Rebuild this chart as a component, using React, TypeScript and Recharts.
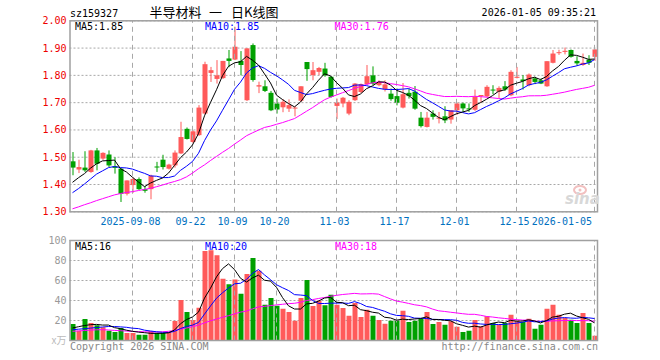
import React from 'react';
import { ComposedChart, Bar, Line, XAxis, YAxis, CartesianGrid, ReferenceLine, Cell } from 'recharts';

const dates = [
  '2025-08-25','2025-08-26','2025-08-27','2025-08-28','2025-08-29',
  '2025-09-01','2025-09-02','2025-09-03','2025-09-04','2025-09-05',
  '2025-09-08','2025-09-09','2025-09-10','2025-09-11','2025-09-12',
  '2025-09-15','2025-09-16','2025-09-17','2025-09-18','2025-09-19',
  '2025-09-22','2025-09-23','2025-09-24','2025-09-25','2025-09-26',
  '2025-09-29','2025-09-30','2025-10-09','2025-10-10',
  '2025-10-13','2025-10-14','2025-10-15','2025-10-16','2025-10-17',
  '2025-10-20','2025-10-21','2025-10-22','2025-10-23','2025-10-24',
  '2025-10-27','2025-10-28','2025-10-29','2025-10-30','2025-10-31',
  '2025-11-03','2025-11-04','2025-11-05','2025-11-06','2025-11-07',
  '2025-11-10','2025-11-11','2025-11-12','2025-11-13','2025-11-14',
  '2025-11-17','2025-11-18','2025-11-19','2025-11-20','2025-11-21',
  '2025-11-24','2025-11-25','2025-11-26','2025-11-27','2025-11-28',
  '2025-12-01','2025-12-02','2025-12-03','2025-12-04','2025-12-05',
  '2025-12-08','2025-12-09','2025-12-10','2025-12-11','2025-12-12',
  '2025-12-15','2025-12-16','2025-12-17','2025-12-18','2025-12-19',
  '2025-12-22','2025-12-23','2025-12-24','2025-12-25','2025-12-26',
  '2025-12-29','2025-12-30','2025-12-31','2026-01-05',
];

const opens = [
  1.485,1.455,1.462,1.446,1.525,1.495,1.510,1.467,1.458,1.366,
  1.398,1.420,1.383,1.383,1.466,1.491,1.458,1.470,1.514,1.604,
  1.556,1.581,1.660,1.809,1.787,1.790,1.862,1.858,1.853,1.709,
  1.911,1.759,1.760,1.736,1.697,1.683,1.678,1.679,1.707,1.849,
  1.801,1.813,1.825,1.795,1.688,1.697,1.660,1.709,1.739,1.768,
  1.800,1.764,1.749,1.733,1.724,1.682,1.736,1.740,1.645,1.611,
  1.660,1.643,1.650,1.638,1.672,1.697,1.679,1.674,1.725,1.723,
  1.748,1.740,1.760,1.727,1.791,1.785,1.764,1.789,1.782,1.760,
  1.846,1.882,1.886,1.893,1.853,1.838,1.858,1.868,
];
const highs = [
  1.519,1.491,1.522,1.527,1.534,1.518,1.525,1.500,1.460,1.415,
  1.426,1.426,1.395,1.436,1.483,1.509,1.476,1.525,1.630,1.609,
  1.599,1.691,1.850,1.831,1.856,1.853,1.893,1.978,1.889,1.899,
  1.917,1.777,1.782,1.743,1.715,1.713,1.712,1.687,1.760,1.849,
  1.849,1.831,1.846,1.797,1.715,1.721,1.709,1.772,1.770,1.838,
  1.833,1.782,1.782,1.752,1.752,1.772,1.752,1.761,1.666,1.666,
  1.672,1.666,1.687,1.672,1.700,1.700,1.697,1.748,1.728,1.764,
  1.764,1.760,1.779,1.819,1.831,1.801,1.807,1.795,1.789,1.852,
  1.893,1.894,1.902,1.895,1.870,1.880,1.874,1.895,
];
const lows = [
  1.434,1.442,1.446,1.443,1.452,1.490,1.464,1.440,1.336,1.360,
  1.369,1.380,1.370,1.346,1.446,1.455,1.455,1.462,1.512,1.565,
  1.552,1.578,1.657,1.776,1.770,1.787,1.830,1.856,1.800,1.706,
  1.777,1.735,1.739,1.669,1.660,1.665,1.666,1.650,1.703,1.780,
  1.782,1.801,1.795,1.718,1.640,1.683,1.654,1.706,1.735,1.764,
  1.764,1.760,1.741,1.707,1.690,1.679,1.715,1.674,1.609,1.609,
  1.638,1.624,1.625,1.623,1.655,1.666,1.666,1.670,1.700,1.720,
  1.731,1.715,1.743,1.724,1.789,1.748,1.760,1.768,1.768,1.758,
  1.844,1.875,1.877,1.865,1.835,1.835,1.838,1.853,
];
const closes = [
  1.462,1.464,1.452,1.525,1.476,1.516,1.470,1.461,1.366,1.415,
  1.420,1.383,1.377,1.432,1.464,1.464,1.473,1.517,1.574,1.567,
  1.595,1.682,1.841,1.819,1.800,1.853,1.853,1.905,1.838,1.899,
  1.783,1.764,1.743,1.672,1.675,1.703,1.691,1.682,1.760,1.823,
  1.819,1.827,1.800,1.721,1.700,1.718,1.703,1.770,1.768,1.797,
  1.770,1.776,1.767,1.713,1.700,1.731,1.724,1.678,1.614,1.645,
  1.648,1.645,1.635,1.672,1.697,1.679,1.675,1.722,1.728,1.758,
  1.746,1.754,1.748,1.813,1.795,1.779,1.803,1.776,1.770,1.852,
  1.880,1.885,1.890,1.868,1.844,1.846,1.846,1.895,
];
const volumes = [
  16.5,9.8,21.5,17.5,15.2,13.2,9.8,8.5,12.5,7.5,
  7.5,5.8,5.8,9.2,7.5,7.5,8.5,19.6,40.6,28.5,
  20.6,32.7,89.5,90.2,85.2,61.8,56.3,61.1,46.7,66.5,
  82.5,69.8,35.8,42.5,34.8,31.8,28.5,19.8,42.5,60.5,
  34.5,39.8,35.2,45.8,35.8,32.5,24.8,37.5,23.5,30.8,
  24.8,20.5,16.8,19.8,19.8,29.8,18.5,19.8,21.8,28.5,
  16.5,18.5,15.8,19.2,13.8,8.5,9.8,20.5,14.2,24.2,
  17.5,15.8,17.5,25.8,19.8,18.5,21.8,11.8,15.8,31.8,
  35.8,25.8,22.5,20.8,17.5,27.5,17.5,4.8,
];

// moving-average values for days whose window starts before the first shown day
const priceMa5Head = [1.408, 1.425, 1.440, 1.460];
const priceMa10Head = [1.370, 1.385, 1.402, 1.420, 1.438, 1.450, 1.462, 1.466, 1.462];
const priceMa30Head = [
  1.311,1.318,1.326,1.333,1.341,1.348,1.355,1.362,1.367,1.371,
  1.374,1.378,1.382,1.386,1.392,1.398,1.405,1.411,1.418,1.428,
  1.442,1.458,1.472,1.488,1.503,1.518,1.532,1.548,1.563,
];
const volMa5Head = [12.5, 13.8, 15.0, 15.8];
const volMa10Head = [10.8, 11.3, 11.8, 12.4, 13.0, 13.5, 14.0, 14.0, 13.6];
const volMa30Head = [
  9.2,9.6,10.0,10.4,10.7,10.8,10.5,10.1,9.8,9.4,
  9.1,8.9,8.7,8.6,8.5,8.7,9.2,10.0,11.2,12.5,
  13.8,15.4,17.6,19.7,21.5,23.2,24.8,26.6,28.4,
];

const markDates = ['2025-09-08','2025-09-22','2025-10-09','2025-10-20','2025-11-03','2025-11-17','2025-12-01','2025-12-15','2026-01-05'];
const markLabels = ['2025-09-08','09-22','10-09','10-20','11-03','11-17','12-01','12-15','2026-01-05'];
const priceTicks = [1.3, 1.4, 1.5, 1.6, 1.7, 1.8, 1.9, 2.0];
const volTicks = [0, 20, 40, 60, 80, 100];

const MONO = "'DejaVu Sans Mono', monospace";
const RED = '#ff5a5a';
const GREEN = '#00a000';
const GRID = '#a8a8a8';

function movingAvg(values: number[], n: number, head: number[]) {
  return values.map((_, i) => {
    if (i < n - 1) return head[i];
    let s = 0;
    for (let k = i - n + 1; k <= i; k++) s += values[k];
    return s / n;
  });
}

const pMa5 = movingAvg(closes, 5, priceMa5Head);
const pMa10 = movingAvg(closes, 10, priceMa10Head);
const pMa30 = movingAvg(closes, 30, priceMa30Head);
const vMa5 = movingAvg(volumes, 5, volMa5Head);
const vMa10 = movingAvg(volumes, 10, volMa10Head);
const vMa30 = movingAvg(volumes, 30, volMa30Head);

const rows = dates.map((d, i) => ({
  date: d,
  open: opens[i],
  high: highs[i],
  low: lows[i],
  close: closes[i],
  range: [lows[i], highs[i]],
  up: closes[i] >= opens[i],
  volume: volumes[i],
  ma5: pMa5[i],
  ma10: pMa10[i],
  ma30: pMa30[i],
  vma5: vMa5[i],
  vma10: vMa10[i],
  vma30: vMa30[i],
}));

function Candle(props: any) {
  const { x, width, payload } = props;
  let { y, height } = props;
  if (y == null || height == null) return null;
  if (height < 0) { y += height; height = -height; }
  const { open, close, high, low, up } = payload;
  const span = high - low;
  const ratio = span > 0 ? height / span : 0;
  const top = y + (high - Math.max(open, close)) * ratio;
  const bot = y + (high - Math.min(open, close)) * ratio;
  const color = up ? RED : GREEN;
  const cx = x + width / 2;
  return (
    <g>
      <rect x={cx - 0.5} y={y} width={1} height={Math.max(height, 1)} fill={color} />
      <rect x={x} y={top} width={width} height={Math.max(bot - top, 1)} fill={color} />
    </g>
  );
}

function DateTick(props: any) {
  const { x, y, payload } = props;
  const idx = markDates.indexOf(payload.value);
  const label = idx >= 0 ? markLabels[idx] : payload.value;
  const isLast = idx === markDates.length - 1;
  return (
    <text x={isLast ? 592 : x - 2} y={y} dy={7} textAnchor={isLast ? 'end' : 'middle'} fill="#0070c0" fontSize={10} fontFamily={MONO}>
      {label}
    </text>
  );
}

function VolTick(props: any) {
  const { x, y, payload } = props;
  const v = payload.value;
  return (
    <text x={x} y={y} dy={3.5} textAnchor="end" fill={v === 0 ? '#bbbbbb' : '#999999'} fontSize={10} fontFamily={v === 0 ? "'Noto Sans CJK SC', sans-serif" : MONO}>
      {v === 0 ? 'x万' : String(v)}
    </text>
  );
}

export default function App() {
  return (
    <div style={{ position: 'absolute', left: 0, top: 0, width: 660, height: 360, background: '#fff', overflow: 'hidden' }}>
      <div style={{ position: 'absolute', left: 0, top: 0 }}>
        <ComposedChart width={660} height={230} data={rows} margin={{ top: 20.8, right: 62.5, bottom: 0.2, left: 29.5 }} barCategoryGap={0}>
          <CartesianGrid vertical={false} stroke={GRID} strokeDasharray="2 2" />
          <XAxis dataKey="date" ticks={markDates} interval={0} tick={<DateTick />} axisLine={false} tickLine={false} tickSize={4} tickMargin={2} height={18} />
          <YAxis domain={[1.3, 2.0]} ticks={priceTicks} interval={0} allowDataOverflow width={40} axisLine={false} tickLine={false} tickSize={0} tickMargin={3}
            tick={{ fill: '#ee0000', fontSize: 10, fontFamily: MONO }} tickFormatter={(v: number) => v.toFixed(2)} />
          {markDates.map((d) => (
            <ReferenceLine key={d} x={d} stroke={GRID} strokeDasharray="5 4" />
          ))}
          <Bar dataKey="range" barSize={5} shape={(p: any) => <Candle {...p} />} isAnimationActive={false} />
          <Line dataKey="ma30" stroke="#ff00ff" strokeWidth={1} dot={false} isAnimationActive={false} type="linear" />
          <Line dataKey="ma10" stroke="#0000ff" strokeWidth={1} dot={false} isAnimationActive={false} type="linear" />
          <Line dataKey="ma5" stroke="#000000" strokeWidth={1} dot={false} isAnimationActive={false} type="linear" />
        </ComposedChart>
      </div>
      <div style={{ position: 'absolute', left: 0, top: 230 }}>
        <ComposedChart width={660} height={130} data={rows} margin={{ top: 10.5, right: 62.5, bottom: 19.5, left: 29.5 }} barCategoryGap={0}>
          <CartesianGrid vertical={false} stroke={GRID} strokeDasharray="2 2" />
          <XAxis dataKey="date" hide />
          <YAxis domain={[0, 100]} ticks={volTicks} interval={0} allowDataOverflow width={40} axisLine={false} tickLine={false} tickSize={0} tickMargin={3} tick={<VolTick />} />
          {markDates.map((d) => (
            <ReferenceLine key={d} x={d} stroke={GRID} strokeDasharray="5 4" />
          ))}
          <Bar dataKey="volume" barSize={5} isAnimationActive={false}>
            {rows.map((r) => (
              <Cell key={r.date} fill={r.up ? RED : GREEN} />
            ))}
          </Bar>
          <Line dataKey="vma30" stroke="#ff00ff" strokeWidth={1} dot={false} isAnimationActive={false} type="linear" />
          <Line dataKey="vma10" stroke="#0000ff" strokeWidth={1} dot={false} isAnimationActive={false} type="linear" />
          <Line dataKey="vma5" stroke="#000000" strokeWidth={1} dot={false} isAnimationActive={false} type="linear" />
        </ComposedChart>
      </div>
      <svg width={660} height={360} style={{ position: 'absolute', left: 0, top: 0, pointerEvents: 'none' }}>
        <rect x={70} y={20.8} width={527.5} height={191} fill="none" stroke="#a0a0a0" strokeWidth={1.5} />
        <rect x={70} y={240.5} width={527.5} height={100} fill="none" stroke="#a0a0a0" strokeWidth={1.5} />
        <text x={70} y={17} fontSize={10} fontFamily={MONO} fill="#000">sz159327</text>
        <g fontFamily="'Noto Sans CJK SC', sans-serif" fontSize={13} fill="#000">
          <text x={149.5} y={16.5}>半导材料</text>
          <text x={209} y={16.5}>一</text>
          <text x={231} y={16.5}>日K线图</text>
        </g>
        <text x={596} y={16} textAnchor="end" fontSize={10} fontFamily={MONO} fill="#000">2026-01-05 09:35:21</text>
        <text x={75} y={29.5} fontSize={10} fontFamily={MONO} fill="#000">MA5:1.85</text>
        <text x={205} y={29.5} fontSize={10} fontFamily={MONO} fill="#0000ff">MA10:1.85</text>
        <text x={334.5} y={29.5} fontSize={10} fontFamily={MONO} fill="#ff00ff">MA30:1.76</text>
        <text x={75} y={249.5} fontSize={10} fontFamily={MONO} fill="#000">MA5:16</text>
        <text x={205} y={249.5} fontSize={10} fontFamily={MONO} fill="#0000ff">MA10:20</text>
        <text x={335} y={249.5} fontSize={10} fontFamily={MONO} fill="#ff00ff">MA30:18</text>
        <text x={70} y={349.5} fontSize={10} fontFamily={MONO} fill="#888">Copyright 2026 SINA.COM</text>
        <text x={598} y={349.5} textAnchor="end" fontSize={10} fontFamily={MONO} fill="#888">http://finance.sina.com.cn</text>
        <ellipse cx={580} cy={190} rx={6} ry={4} fill="none" stroke="#f2c0c0" strokeWidth={2} />
        <circle cx={580} cy={190} r={1.5} fill="#f2c0c0" />
        <text x={565} y={204} fontSize={15} fontStyle="italic" fontWeight="bold" fontFamily="'DejaVu Sans', sans-serif" fill="#d8d8d8">sina</text>
      </svg>
    </div>
  );
}
